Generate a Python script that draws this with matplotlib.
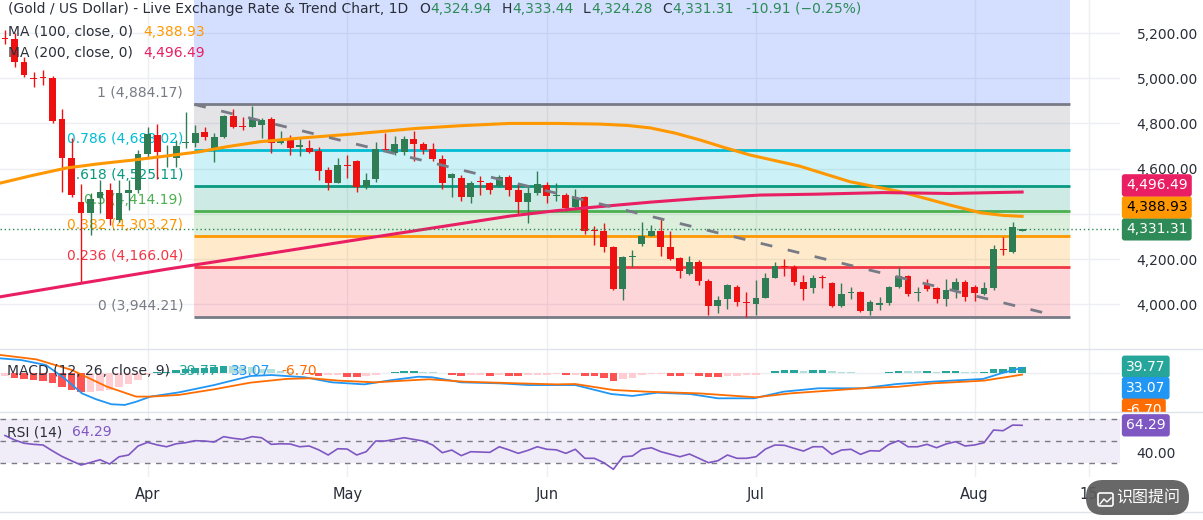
import matplotlib
matplotlib.use("Agg")
import matplotlib.pyplot as plt
import numpy as np
from matplotlib.lines import Line2D
from matplotlib.patches import FancyBboxPatch
from matplotlib.transforms import Bbox, TransformedBbox, IdentityTransform

plt.rcParams["font.family"] = ["DejaVu Sans", "Noto Sans CJK SC"]

W, H = 1203, 520
PLOT_W = 1120

# daily candles, oldest first
opens = [5180, 5172, 5073, 5002, 5006, 4999, 4819, 4646, 4454, 4405,
         4469, 4505, 4373, 4491, 4505, 4665, 4749, 4650, 4648, 4713,
         4715, 4763, 4682, 4738, 4833, 4787, 4785, 4793, 4818, 4715,
         4734, 4694, 4693, 4678, 4594, 4538, 4615, 4634, 4517, 4553,
         4686, 4668, 4673, 4730, 4709, 4686, 4642, 4557, 4560, 4476,
         4545, 4535, 4523, 4565, 4505, 4451, 4491, 4527, 4481, 4483,
         4429, 4473, 4327, 4325, 4254, 4066, 4207, 4266, 4303, 4325,
         4252, 4203, 4135, 4188, 4104, 3993, 4023, 4077, 4009, 4001,
         4029, 4117, 4168, 4163, 4100, 4073, 4121, 4095, 3993, 4049,
         4055, 3970, 3999, 4004, 4075, 4125, 4049, 4085, 4070, 4022,
         4063, 4100, 4075, 4045, 4071, 4244, 4232, 4324.94]
highs = [5213, 5200, 5095, 5029, 5036, 5010, 4864, 4734, 4532, 4491,
         4550, 4538, 4550, 4550, 4682, 4783, 4797, 4704, 4727, 4852,
         4793, 4785, 4756, 4837, 4862, 4830, 4877, 4822, 4830, 4768,
         4749, 4734, 4727, 4697, 4606, 4646, 4660, 4640, 4582, 4719,
         4759, 4744, 4744, 4768, 4719, 4715, 4660, 4579, 4572, 4546,
         4567, 4542, 4572, 4572, 4535, 4517, 4591, 4539, 4535, 4493,
         4508, 4479, 4346, 4358, 4257, 4213, 4240, 4365, 4350, 4376,
         4325, 4210, 4213, 4196, 4110, 4036, 4089, 4085, 4055, 4107,
         4137, 4188, 4199, 4173, 4129, 4129, 4129, 4100, 4095, 4077,
         4060, 4018, 4033, 4080, 4163, 4129, 4077, 4110, 4077, 4110,
         4115, 4107, 4085, 4100, 4262, 4296, 4365, 4333.44]
lows = [5150, 5051, 5007, 4962, 4970, 4803, 4498, 4476, 4094, 4306,
        4402, 4350, 4365, 4417, 4491, 4653, 4554, 4608, 4608, 4690,
        4697, 4727, 4630, 4734, 4778, 4771, 4783, 4734, 4668, 4709,
        4660, 4656, 4668, 4550, 4505, 4535, 4557, 4498, 4508, 4542,
        4679, 4660, 4660, 4635, 4665, 4635, 4508, 4476, 4458, 4449,
        4483, 4488, 4520, 4479, 4395, 4361, 4483, 4446, 4458, 4414,
        4420, 4311, 4262, 4232, 4063, 4019, 4166, 4257, 4302, 4213,
        4196, 4115, 4129, 4085, 3952, 3960, 3977, 3992, 3944.21, 3952,
        4026, 4115, 4125, 4085, 4019, 4048, 4070, 3986, 3989, 4022,
        3964, 3952, 3974, 3996, 4070, 4038, 4015, 4060, 4007, 3993,
        4026, 4015, 4015, 4040, 4063, 4218, 4225, 4324.28]
closes = [5175, 5073, 5014, 4998, 5002, 4812, 4646, 4483, 4402, 4464,
          4498, 4376, 4491, 4505, 4665, 4753, 4672, 4656, 4700, 4717,
          4759, 4741, 4738, 4833, 4785, 4783, 4824, 4815, 4715, 4730,
          4690, 4704, 4675, 4591, 4538, 4616, 4611, 4517, 4549, 4686,
          4681, 4709, 4730, 4709, 4682, 4642, 4535, 4576, 4476, 4535,
          4540, 4505, 4562, 4505, 4451, 4491, 4532, 4479, 4485, 4424,
          4469, 4324, 4323, 4254, 4066, 4207, 4213, 4303, 4325, 4252,
          4200, 4148, 4185, 4104, 3993, 4018, 4085, 4008, 4005, 4026,
          4117, 4169, 4164, 4100, 4067, 4117, 4117, 3993, 4045, 4053,
          3970, 4011, 4003, 4075, 4125, 4044, 4053, 4067, 4022, 4063,
          4100, 4033, 4048, 4073, 4243, 4238, 4342.22, 4331.31]

# moving averages, read at a number of bars
ma100_idx = [-0.5, 3, 6.5, 10, 13.5, 17, 20.5, 23.5, 26.8, 31, 36.3, 43.3,
             48, 53.1, 58, 62.6, 65.5, 67.9, 70.5, 73.1, 75.7, 78.4, 83.6,
             88.9, 94.2, 99.4, 102.6, 105, 107]
ma100 = [4536, 4571, 4603, 4622, 4638, 4656, 4675, 4698, 4719, 4735, 4752,
         4778, 4790, 4800, 4800, 4797, 4791, 4780, 4757, 4727, 4693, 4660,
         4611, 4542, 4498, 4439, 4405, 4393, 4388.93]
ma200_idx = [-0.5, 7.9, 17, 26.8, 39.1, 53.1, 58, 62.6, 68, 73.1, 79.4, 85.4,
             92.4, 99.4, 107]
ma200 = [4033, 4092, 4155, 4218, 4299, 4390, 4414, 4432, 4452, 4468, 4483,
         4487, 4494, 4490, 4496.49]

# MACD (12, 26, close, 9)
macd_idx = [-0.5, 1.7, 4.3, 6.2, 8.1, 9.6, 11.2, 12.6, 13.8, 15.3, 18.3, 22,
            25.8, 28, 31.5, 34.4, 37.8, 40.8, 43.5, 44.9, 48, 52.1, 55.1, 58.1,
            60, 63.8, 66, 68.6, 72.1, 75, 78.8, 81.9, 85.6, 90.2, 93.8, 97.6,
            102.9, 104.8, 107]
macd = [89, 79, 50, -26, -117, -152, -181, -185, -166, -136, -111, -68,
        -15, -9, -22, -52, -64, -38, -19, -22, -52, -58, -68, -68,
        -68, -121, -132, -113, -121, -146, -146, -107, -87, -87, -62, -48,
        -32, 1, 33.07]
signal_idx = [-0.5, 3.3, 7, 10.7, 13.8, 15.3, 18.3, 22, 25.8, 29.6, 32.2, 35.1,
              38.9, 44.6, 48.3, 54, 58, 60, 64, 67.5, 73, 79, 82.6, 90.2, 94,
              97.6, 103, 107]
signal = [109, 83, 21, -77, -136, -136, -126, -93, -54, -32, -28, -42,
          -52, -34, -48, -58, -64, -62, -97, -107, -117, -140, -117, -87, -78,
          -58, -42, -6.70]
hist = [-16, -29, -35, -39, -43, -55, -78, -98, -108, -108,
        -102, -98, -78, -59, -39, -10, 6, 10, 20, 25,
        31, 35, 39, 43, 43, 39, 39, 29, 24, 16,
        8, 2, -2, -14, -10, -8, -20, -22, -14, -6,
        4, 8, 12, 14, 10, 6, 2, -8, -12, -8,
        -6, -12, -8, -12, -13, -6, -6, -6, -5, -10,
        -6, -14, -16, -24, -45, -35, -29, -10, -4, -4,
        -12, -13, -4, -12, -20, -21, -14, -12, -10, -8,
        4, 12, 18, 19, 14, 20, 21, 12, 8, 6,
        2, 2, 4, 10, 14, 14, 14, 15, 6, 14,
        15, 10, 6, 10, 24, 29, 37, 39.77]

# RSI (14)
rsi = [55, 51, 48, 47, 46.4, 41, 36, 32, 28.2, 30.5,
       33, 29.1, 35.7, 37.3, 45.5, 48.8, 46.5, 44.8, 47.5, 48.5,
       50.3, 50, 49.1, 54, 52.5, 51.5, 54, 53, 47, 47.5,
       47.3, 44.8, 45.5, 42, 37.3, 43, 42.7, 37.3, 40.3, 50,
       50, 51.5, 53, 51.5, 50, 46.4, 39.4, 41.8, 36.7, 40.3,
       40, 39.7, 44.8, 42, 38.8, 41.5, 44.8, 42.5, 42, 38.8,
       42.5, 34.3, 34.3, 30.3, 24.3, 35.7, 36.4, 42.5, 43.9, 40.3,
       38, 35.7, 38.2, 34.3, 30.3, 32.1, 37.3, 34.3, 34.3, 35.7,
       42.7, 46.4, 46.1, 43.4, 40.9, 44.8, 44.8, 37.9, 41.8, 42.5,
       37.9, 41.2, 40.9, 47, 50.3, 44.8, 44.8, 47, 43.9, 47.3,
       49.4, 45.5, 46.4, 48.5, 60, 59.4, 64.5, 64.29]

# fibonacci retracement and trend line drawings
fib_low, fib_high = 3944.21, 4884.17
fib_levels = [0, 0.236, 0.382, 0.5, 0.618, 0.786, 1, 1.618]
fib_colors = ["#787B86", "#F23645", "#FF9800", "#4CAF50", "#089981",
              "#00BCD4", "#787B86", "#2962FF"]
fib_x0, fib_x1 = 19.9, 112.05
trend_x = [19.9, 110.0]
trend_y = [4884.17, 3955.0]

price_ticks = [4000, 4200, 4400, 4600, 4800, 5000, 5200]
month_pos = [15, 36, 57, 79, 102, 114]
month_lbl = ["Apr", "May", "Jun", "Jul", "Aug", "15"]

UP, DOWN = "#2e7d55", "#ee1111"
TXT = "#2a2e39"
GRID = "#eceff3"
VAL_GREEN = "#2e8b57"

fig = plt.figure(figsize=(W / 100, H / 100), dpi=100)


def panel(top, bottom):
    a = fig.add_axes([0, 1 - bottom / H, PLOT_W / W, (bottom - top) / H])
    for s in a.spines.values():
        s.set_visible(False)
    a.set_xlim(-0.526, 117.3)
    a.set_xticks(month_pos)
    a.tick_params(length=0, labelbottom=False, labelleft=False)
    a.grid(True, axis="x", color=GRID, lw=1)
    a.set_axisbelow(True)
    return a


ax = panel(0, 349)
ax_m = panel(349, 412)
ax_r = panel(412, 477)

# ---- price panel ----
ax.set_ylim(3802, 5346)
ax.yaxis.tick_right()
ax.set_yticks(price_ticks)
# 4,400 sits under the price tags, so its label is not shown
ax.set_yticklabels(["" if v == 4400 else f"{v:,.2f}" for v in price_ticks])
ax.tick_params(axis="y", labelright=True, pad=12, labelsize=10, labelcolor=TXT)
ax.grid(True, axis="y", color=GRID, lw=1)

fib_prices = [fib_low + l * (fib_high - fib_low) for l in fib_levels]
for k in range(len(fib_levels) - 1):
    ax.fill_between([fib_x0, fib_x1], fib_prices[k], fib_prices[k + 1],
                    color=fib_colors[k + 1], alpha=0.2, lw=0, zorder=1)
for l, p, c in zip(fib_levels[:-1], fib_prices[:-1], fib_colors[:-1]):
    ax.hlines(p, fib_x0, fib_x1, color=c, lw=2, zorder=2)
    ax.annotate(f"{l:g} ({p:,.2f})", xy=(fib_x0, p), xytext=(-11, 4),
                textcoords="offset pixels", ha="right", va="bottom",
                color=c, fontsize=10, zorder=2.5)

idx = np.arange(len(closes))
cols = [UP if c >= o else DOWN for o, c in zip(opens, closes)]
ax.vlines(idx, lows, highs, colors=cols, lw=1, zorder=3)
body = [max(abs(c - o), 5) for o, c in zip(opens, closes)]
bottoms = [min(o, c) - (b - abs(c - o)) / 2 for o, c, b in zip(opens, closes, body)]
ax.bar(idx, body, bottom=bottoms, width=0.72, color=cols, lw=0, zorder=3.1)

ax.plot(ma100_idx, ma100, color="#FF9800", lw=2.2, zorder=4, solid_joinstyle="round")
ax.plot(ma200_idx, ma200, color="#E91E63", lw=2.2, zorder=4, solid_joinstyle="round")
ax.plot(trend_x, trend_y, color="#787B86", lw=2, dashes=(4.3, 5.7), zorder=4.5)
ax.axhline(closes[-1], color=VAL_GREEN, lw=1, ls=(0, (1, 2)), zorder=4)


def tag(axis, val, txt, bg, fg, dy=0, clip=None):
    t = axis.annotate(txt, xy=(1, val), xycoords=("axes fraction", "data"),
                      xytext=(6, dy), textcoords="offset pixels", ha="left",
                      va="center", fontsize=10, color=fg, zorder=30,
                      annotation_clip=False,
                      bbox=dict(boxstyle="round,pad=0.3,rounding_size=0.2",
                                fc=bg, ec="none"))
    if clip is not None:
        t.set_clip_on(True)
        t.set_clip_box(clip)
    return t


ppu = 349 / (5346 - 3802)
price_tags = [(closes[-1], "#2e8b57", "white"), (ma100[-1], "#FF9800", "black"),
              (ma200[-1], "#E91E63", "white")]
prev = None
for v, bg, fg in price_tags:
    nat = v * ppu
    placed = nat if prev is None else max(nat, prev + 22)
    tag(ax, v, f"{v:,.2f}", bg, fg, dy=placed - nat)
    prev = placed

# ---- MACD panel ----
ax_m.set_ylim(-226.5, 144)
ax_m.set_yticks([])
ax_m.axhline(0, color=GRID, lw=1, zorder=0.5)
hcols = []
for k, v in enumerate(hist):
    p = hist[k - 1] if k else v
    if v >= 0:
        hcols.append("#26A69A" if v > p else "#B2DFDB")
    else:
        hcols.append("#FF5252" if v < p else "#FFCDD2")
ax_m.bar(idx, hist, width=0.8, color=hcols, lw=0, zorder=2)
ax_m.plot(macd_idx, macd, color="#2196F3", lw=1.3, zorder=3)
ax_m.plot(signal_idx, signal, color="#FF6D00", lw=1.3, zorder=3)

mclip = TransformedBbox(Bbox.from_extents(0, 1 - 412 / H, 1, 1 - 349 / H), fig.transFigure)
mppu = 63 / (144 + 226.5)
prev = None
for v, bg in [(hist[-1], "#26A69A"), (macd[-1], "#2196F3"), (signal[-1], "#FF6D00")]:
    nat = v * mppu
    placed = nat if prev is None else min(nat, prev - 21.5)
    tag(ax_m, v, f"{v:.2f}", bg, "white", dy=placed - nat, clip=mclip)
    prev = placed

# ---- RSI panel ----
ax_r.set_ylim(17.3, 76.4)
ax_r.yaxis.tick_right()
ax_r.set_yticks([40])
ax_r.set_yticklabels(["40.00"])
ax_r.tick_params(axis="y", labelright=True, pad=12, labelsize=10, labelcolor=TXT)
ax_r.tick_params(axis="x", labelbottom=True, pad=7, labelsize=10.5, labelcolor=TXT)
ax_r.set_xticklabels(month_lbl)
ax_r.axhspan(30, 70, color="#7E57C2", alpha=0.1, lw=0, zorder=0.4)
for lv in (70, 50, 30):
    ax_r.axhline(lv, color="#787B86", lw=1, ls=(0, (4, 4)), zorder=1)
ax_r.plot(idx, rsi, color="#7E57C2", lw=1.2, zorder=3)
tag(ax_r, rsi[-1], f"{rsi[-1]:.2f}", "#7E57C2", "white")

# ---- separators ----
for yp in (349, 412, 512):
    fig.add_artist(Line2D([0, 1], [1 - yp / H] * 2, transform=fig.transFigure,
                          color="#e0e3eb", lw=1))

# ---- legends ----
renderer = fig.canvas.get_renderer()


def chain(x, y, parts, size=10):
    for s, c, gap in parts:
        t = fig.text(x, H - y, s, color=c, fontsize=size, ha="left", va="center",
                     transform=IdentityTransform(), zorder=20)
        x = t.get_window_extent(renderer).x1 + gap


chain(8, 9, [("(Gold / US Dollar) - Live Exchange Rate & Trend Chart, 1D", TXT, 11),
             ("O", TXT, 0), ("4,324.94", VAL_GREEN, 10),
             ("H", TXT, 0), ("4,333.44", VAL_GREEN, 10),
             ("L", TXT, 0), ("4,324.28", VAL_GREEN, 10),
             ("C", TXT, 0), ("4,331.31", VAL_GREEN, 13),
             ("-10.91 (\u22120.25%)", VAL_GREEN, 0)])
chain(8, 32, [("MA (100, close, 0)", TXT, 10), (f"{ma100[-1]:,.2f}", "#FF9800", 0)])
chain(8, 53, [("MA (200, close, 0)", TXT, 10), (f"{ma200[-1]:,.2f}", "#E91E63", 0)])
chain(7, 371, [("MACD (12, 26, close, 9)", TXT, 9), (f"{hist[-1]:.2f}", "#26A69A", 12),
               (f"{macd[-1]:.2f}", "#2196F3", 12), (f"{signal[-1]:.2f}", "#FF6D00", 0)])
chain(7, 432, [("RSI (14)", TXT, 10), (f"{rsi[-1]:.2f}", "#7E57C2", 0)])

# ---- floating button ----
fig.add_artist(FancyBboxPatch((1086, H - 515), 103, 35,
                              boxstyle="round,pad=0,rounding_size=17",
                              transform=IdentityTransform(), fc="#5c5c5c",
                              ec="none", alpha=0.93, zorder=40))
fig.add_artist(FancyBboxPatch((1098, H - 506), 15, 13,
                              boxstyle="round,pad=0,rounding_size=2",
                              transform=IdentityTransform(), fc="none",
                              ec="white", lw=1.2, zorder=41))
fig.add_artist(Line2D([1100, 1104, 1107, 1111], [H - 504, H - 499, H - 502, H - 498],
                      transform=IdentityTransform(), color="white", lw=1, zorder=41))
fig.text(1148, H - 498, "识图提问", color="white", fontsize=11.5,
         family=["Noto Sans CJK SC"], ha="center", va="center",
         transform=IdentityTransform(), zorder=42)

fig.savefig("out.png", dpi=100)
